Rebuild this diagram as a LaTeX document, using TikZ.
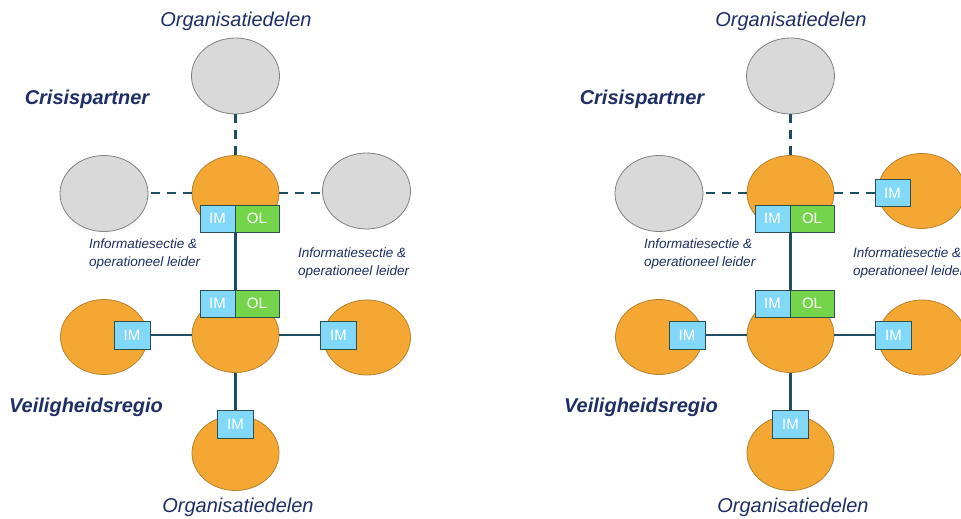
\documentclass[tikz,border=0pt]{standalone}
\usepackage{fontspec}
\setmainfont{Liberation Sans}
\usetikzlibrary{shapes.geometric}
\definecolor{orangef}{HTML}{F5A733}
\definecolor{oranged}{HTML}{B3832F}
\definecolor{grayf}{HTML}{D9D9D9}
\definecolor{grayd}{HTML}{808080}
\definecolor{imblue}{HTML}{82D8F8}
\definecolor{olgreen}{HTML}{74D54A}
\definecolor{boxd}{HTML}{2F4F4F}
\definecolor{linec}{HTML}{1F4E63}
\definecolor{navy}{HTML}{1F2F66}
\tikzset{
 orangeell/.style={ellipse, fill=orangef, draw=oranged, line width=0.8pt, minimum width=87pt, minimum height=75pt, inner sep=0pt},
 grayell/.style={ellipse, fill=grayf, draw=grayd, line width=0.8pt, minimum width=88pt, minimum height=76pt, inner sep=0pt},
 imbox/.style={rectangle, fill=imblue, draw=boxd, line width=0.8pt, minimum width=35pt, minimum height=27pt, inner sep=0pt, text=white, font=\fontsize{15}{15}\selectfont},
 olbox/.style={imbox, fill=olgreen, minimum width=44pt},
 solidlink/.style={draw=linec, line width=2.4pt},
 dashlink/.style={draw=linec, line width=2.4pt, dash pattern=on 9pt off 7pt},
 heading/.style={text=navy, font=\fontsize{20}{24}\selectfont\itshape, inner sep=0pt},
 region/.style={text=navy, font=\fontsize{20}{24}\selectfont\bfseries\itshape, inner sep=0pt},
 infotext/.style={text=navy, font=\fontsize{13.5}{18}\selectfont\itshape, align=left, anchor=west, inner sep=0pt},
}
\newcommand\halfdiagram[2]{%
\begin{scope}[xshift=#2pt]
 \node[heading] (#1topt) at (236,21) {Organisatiedelen};
 \node[region] (#1crisis) at (87,99) {Crisispartner};
 \node[region] (#1veilig) at (86,407) {Veiligheidsregio};
 \node[heading] (#1bott) at (238,507) {Organisatiedelen};
 \node[infotext] (#1infol) at (89,254) {Informatiesectie \&\\operationeel leider};
 \node[infotext] (#1infor) at (298,263) {Informatiesectie \&\\operationeel leider};
 % crisispartner
 \node[grayell] (#1gtop) at (235.5,76) {};
 \node[grayell] (#1gleft) at (104,193.5) {};
 \node[orangeell] (#1ctop) at (235.5,193) {};
 \node[imbox] (#1imA) at (217.5,218.5) {IM};
 \node[olbox] (#1olA) at (257,218.5) {OL};
 % veiligheidsregio
 \node[orangeell] (#1oleft) at (104,337) {};
 \node[orangeell] (#1oright) at (367,337.5) {};
 \node[orangeell] (#1obot) at (235.5,453) {};
 \node[orangeell] (#1cbot) at (235.5,335) {};
 \node[imbox] (#1imB) at (217.5,303.5) {IM};
 \node[olbox] (#1olB) at (257,303.5) {OL};
 \node[imbox, minimum width=36pt, minimum height=28pt] (#1imL) at (132,335) {IM};
 \node[imbox, minimum width=36pt, minimum height=28pt] (#1imR) at (338.5,335) {IM};
 \node[imbox, minimum width=36pt, minimum height=28pt] (#1imD) at (235.5,424.5) {IM};
 % links
 \draw[dashlink] (#1gtop.south) -- (#1ctop.north);
 \draw[dashlink] (#1ctop.west) -- (#1ctop.west -| #1gleft.east);
 \draw[solidlink] (#1imA.south east) -- (#1imB.north east);
 \draw[solidlink] (#1imL.east) -- (#1cbot.west);
 \draw[solidlink] (#1cbot.east) -- (#1imR.west);
 \draw[solidlink] (#1cbot.south) -- (#1imD.north);
\end{scope}}
\begin{document}
\begin{tikzpicture}[x=1pt,y=-1pt]
 \useasboundingbox[fill=white] (0,0) rectangle (961,519);
 \halfdiagram{a}{0}
 \halfdiagram{b}{555}
 % left diagram: third crisis partner not involved
 \node[grayell] (agright) at (366.5,191) {};
 \draw[dashlink] (actop.east) -- (actop.east -| agright.west);
 % right diagram: third crisis partner with information manager
 \node[orangeell] (boright) at (921.5,191) {};
 \node[imbox] (bimT) at (892.5,193) {IM};
 \draw[dashlink] (bctop.east) -- (bimT.west);
\end{tikzpicture}
\end{document}
